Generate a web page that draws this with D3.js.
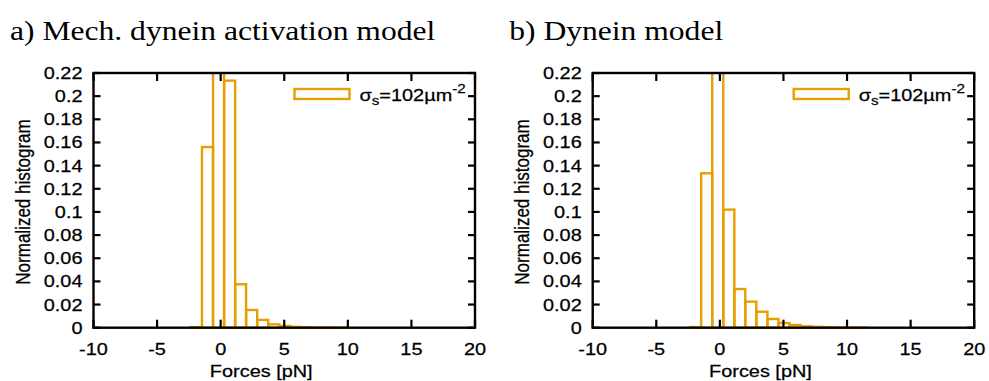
<!DOCTYPE html>
<html><head><meta charset="utf-8">
<script src="https://cdn.jsdelivr.net/npm/d3@7"></script>
<style>body{margin:0;background:#fff}svg{display:block}</style>
</head><body>
<svg id="c" width="989" height="381"></svg>
<script>
// ---- data ----
const binEdges = [-2.34, -1.47, -0.60, 0.27, 1.14, 2.00, 2.87, 3.74, 4.61, 5.48, 6.34, 7.21, 8.08, 8.95, 9.82, 10.69, 11.56];
const mechValues = [0.0005, 0.156, 0.40, 0.2134, 0.0375, 0.0153, 0.0067, 0.0029, 0.0015, 0.0007, 0.0004, 0.0002, 0.0001, 0.0001, 0, 0];
const dyneinValues = [0.0005, 0.1334, 0.45, 0.102, 0.0334, 0.0225, 0.0138, 0.0075, 0.0040, 0.0023, 0.0012, 0.0007, 0.0004, 0.0002, 0.0001, 0.0001];
const xTicks = [-10, -5, 0, 5, 10, 15, 20];
const yTicks = [0, 0.02, 0.04, 0.06, 0.08, 0.1, 0.12, 0.14, 0.16, 0.18, 0.2, 0.22];
const titles = ["a) Mech. dynein activation model", "b) Dynein model"];
const xLabel = "Forces [pN]";
const yLabel = "Normalized histogram";

// ---- layout ----
const SX = 1.17;
const ORANGE = "#E69F00";
const svg = d3.select("#c");
const SANS = "'Liberation Sans', Arial, sans-serif";
const SERIF = "'Liberation Serif', 'Times New Roman', serif";

function txt(g, x, y, str, size, family, anchor, rot) {
  return g.append("text")
    .attr("transform", `translate(${x},${y}) scale(${SX},1)` + (rot ? ` rotate(${rot})` : ""))
    .attr("font-family", family).attr("font-size", size)
    .attr("text-anchor", anchor || "start").attr("fill", "#000")
    .attr("stroke", "#000").attr("stroke-width", 0.25)
    .text(str);
}

function panel(ox, values, title, idx) {
  const x0 = ox, x1 = ox + 381.5, y0 = 73, y1 = 327.7;
  const x = d3.scaleLinear().domain([-10, 20]).range([x0, x1]);
  const y = d3.scaleLinear().domain([0, 0.22]).range([y1, y0]);
  const g = svg.append("g");

  // title
  txt(g, ox - 83.5, 40, title, 27, SERIF, "start").attr("stroke-width", 0);

  // clip
  const cid = "clip" + idx;
  svg.append("clipPath").attr("id", cid).append("rect")
    .attr("x", x0).attr("y", y0).attr("width", x1 - x0).attr("height", y1 - y0 + 1);

  // bars
  const bars = values.map((v, i) => ({a: binEdges[i], b: binEdges[i + 1], v}));
  g.append("g").attr("clip-path", `url(#${cid})`)
    .selectAll("rect").data(bars).join("rect")
    .attr("x", d => x(d.a)).attr("width", d => x(d.b) - x(d.a))
    .attr("y", d => y(d.v)).attr("height", d => y(0) - y(d.v))
    .attr("fill", "none").attr("stroke", ORANGE).attr("stroke-width", 2.4);

  // ticks
  const tk = g.append("g").attr("stroke", "#000").attr("stroke-width", 2.2);
  yTicks.forEach(t => {
    tk.append("line").attr("x1", x0).attr("x2", x0 + 7).attr("y1", y(t)).attr("y2", y(t));
    tk.append("line").attr("x1", x1).attr("x2", x1 - 7).attr("y1", y(t)).attr("y2", y(t));
    txt(g, x0 - 11, y(t) + 6, String(t), 17, SANS, "end");
  });
  xTicks.forEach(t => {
    tk.append("line").attr("x1", x(t)).attr("x2", x(t)).attr("y1", y1).attr("y2", y1 - 8);
    tk.append("line").attr("x1", x(t)).attr("x2", x(t)).attr("y1", y0).attr("y2", y0 + 8);
    txt(g, x(t), 355, String(t), 17, SANS, "middle");
  });

  // frame
  g.append("rect").attr("x", x0).attr("y", y0).attr("width", x1 - x0).attr("height", y1 - y0)
    .attr("fill", "none").attr("stroke", "#000").attr("stroke-width", 2.4);

  // axis labels
  txt(g, (x0 + x1) / 2 - 23, 377, xLabel, 17, SANS, "middle");
  txt(g, ox - 64, 202, yLabel, 17, SANS, "middle", -90);

  // legend
  g.append("rect").attr("x", ox + 201).attr("y", 89).attr("width", 55).attr("height", 10)
    .attr("fill", "none").attr("stroke", ORANGE).attr("stroke-width", 2.4);
  const lt = txt(g, ox + 266, 100.5, "", 17, SANS, "start");
  lt.append("tspan").text("σ");
  lt.append("tspan").attr("font-size", 13).attr("dy", 4).text("s");
  lt.append("tspan").attr("dy", -4).text("=102µm");
  lt.append("tspan").attr("font-size", 13).attr("dy", -8).text("-2");
}

panel(93.5, mechValues, titles[0], 0);
panel(592.7, dyneinValues, titles[1], 1);
</script>
</body></html>
